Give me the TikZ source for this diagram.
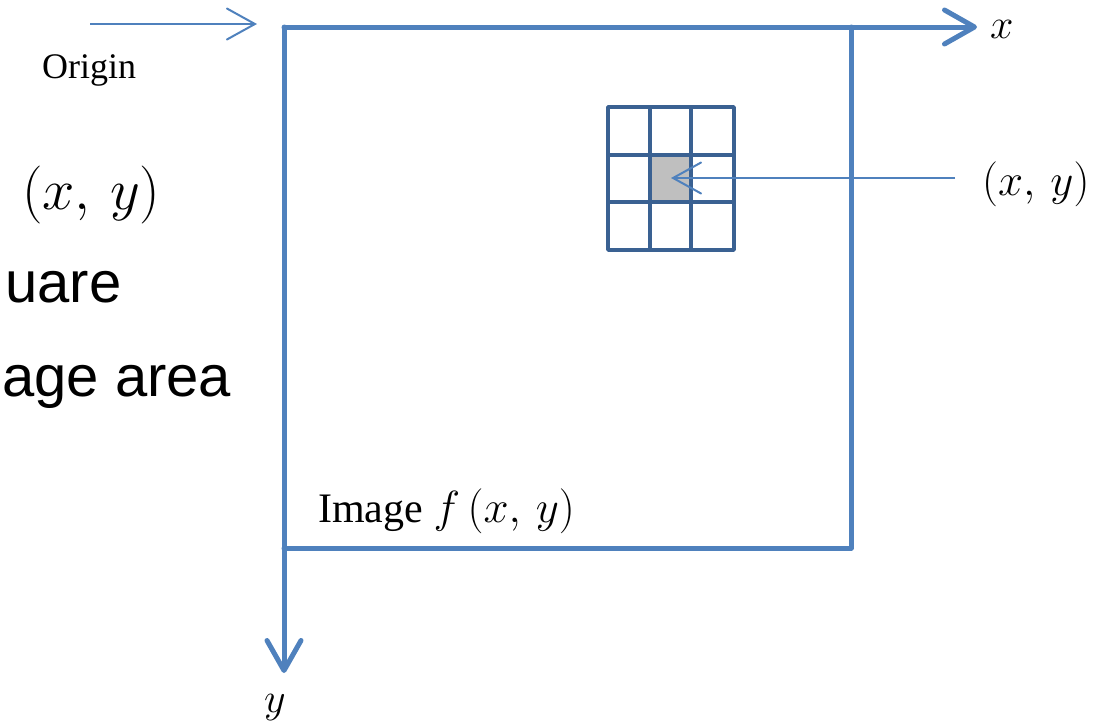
\documentclass[tikz,border=0pt]{standalone}
\usepackage{fix-cm}
\usepackage{fontspec}
\setmainfont{Liberation Serif}
\newfontfamily\arialfont{Liberation Sans}
\usetikzlibrary{arrows.meta}
\definecolor{axisblue}{HTML}{4F81BD}
\definecolor{gridblue}{HTML}{3A6192}
\definecolor{cellgray}{HTML}{BFBFBF}
\tikzset{
  axisline/.style={draw=axisblue, line width=5pt, line cap=round, line join=round},
  axisarrow/.style={axisline, -{Straight Barb[length=30pt,width=34pt,line cap=round,line join=round]}},
  thinarrow/.style={draw=axisblue, line width=2pt, -{Straight Barb[length=28pt,width=31pt,line cap=round]}},
  gridline/.style={draw=gridblue, line width=3.5pt, line cap=round, line join=round},
  lbl/.style={inner sep=0pt, anchor=base west, text=black},
}
\begin{document}
\begin{tikzpicture}[x=1pt,y=-1pt]
\useasboundingbox (0,0) rectangle (1099,724);
% coordinates
\coordinate (O) at (284,27);
\coordinate (xend) at (977,27);
\coordinate (yend) at (284,673);
\coordinate (TR) at (851,27);
\coordinate (BR) at (851,548);
\coordinate (BL) at (284,548);
\coordinate (oastart) at (90,24);
\coordinate (oaend) at (257,24);
\coordinate (pastart) at (955,178);
\coordinate (cell) at (671,178);
% image frame
\draw[axisline] (TR) -- (BR) -- (BL);
% axes
\draw[axisarrow] (O) -- (xend);
\draw[axisarrow] (O) -- (yend);
% grid
\fill[cellgray] (650,155) rectangle (691,202);
\draw[gridline] (608,107) rectangle (734,250);
\draw[gridline] (650,107) -- (650,250);
\draw[gridline] (691,107) -- (691,250);
\draw[gridline] (608,155) -- (734,155);
\draw[gridline] (608,202) -- (734,202);
% arrows
\draw[thinarrow] (oastart) -- (oaend);
\draw[thinarrow] (pastart) -- (cell);
% labels
\node[lbl, font=\fontsize{36}{43}\selectfont] (origin) at (42,78) {Origin};
\node[lbl, font=\fontsize{58}{70}\selectfont] (bigxy) at (22,209) {$(x,\,y)$};
\node[lbl, font=\fontsize{58}{70}\selectfont\arialfont] (uare) at (5,302) {uare};
\node[lbl, font=\fontsize{58}{70}\selectfont\arialfont] (agearea) at (2,396) {age area};
\node[lbl, font=\fontsize{45}{54}\selectfont] (pxy) at (982,195) {$(x,\,y)$};
\node[lbl, font=\fontsize{42}{50}\selectfont] (xlab) at (990,38) {$x$};
\node[lbl, font=\fontsize{42}{50}\selectfont] (ylab) at (264,712) {$y$};
\node[lbl, font=\fontsize{42}{50}\selectfont] (imglab) at (318,522) {Image {\fontsize{45}{54}\selectfont$f\,(x,\,y)$}};
\end{tikzpicture}
\end{document}
